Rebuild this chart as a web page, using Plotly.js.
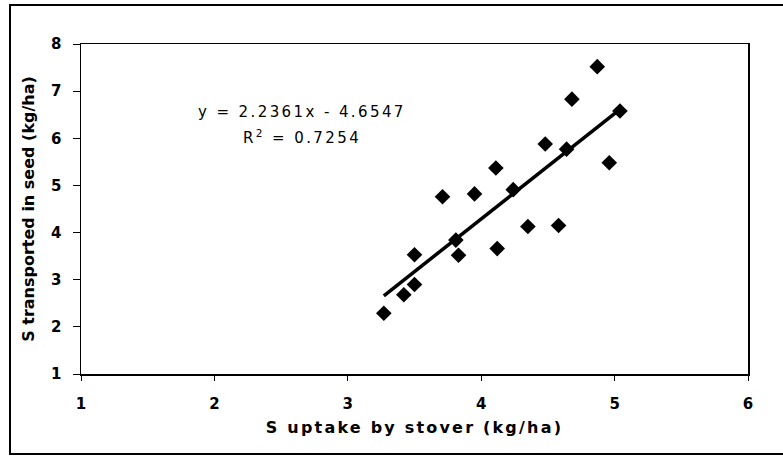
<!DOCTYPE html>
<html>
<head>
<meta charset="utf-8">
<script src="https://cdn.plot.ly/plotly-3.0.1.min.js"></script>
<style>
html,body{margin:0;padding:0;background:#fff;}
#chart{width:783px;height:456px;}
.xtitle{letter-spacing:2.2px;}
.annotation-text{letter-spacing:2.4px;}
</style>
</head>
<body>
<div id="chart"></div>
<script>
// Data
var stoverS = [3.27, 3.42, 3.50, 3.50, 3.81, 3.83, 3.71, 3.95, 4.11, 4.12, 4.24, 4.35, 4.48, 4.58, 4.64, 4.68, 4.96, 4.87, 5.04];
var seedS   = [2.29, 2.68, 2.90, 3.53, 3.84, 3.52, 4.76, 4.82, 5.37, 3.66, 4.91, 4.13, 5.88, 4.15, 5.77, 6.83, 5.48, 7.52, 6.58];
var slope = 2.2361;
var intercept = -4.6547;
var rSquared = 0.7254;
var xTicks = [1, 2, 3, 4, 5, 6];
var yTicks = [1, 2, 3, 4, 5, 6, 7, 8];

var xMin = Math.min.apply(null, stoverS);
var xMax = Math.max.apply(null, stoverS);
var lineX = [xMin, xMax];
var lineY = lineX.map(function (v) { return slope * v + intercept; });

var traces = [
  {x: lineX, y: lineY, mode: 'lines', type: 'scatter',
   line: {color: '#000', width: 3.5}, hoverinfo: 'skip'},
  {x: stoverS, y: seedS, mode: 'markers', type: 'scatter',
   marker: {symbol: 'diamond', size: 12, color: '#000'}}
];

var FONT = 'DejaVu Sans, Arial, sans-serif';
var tickFont = {family: FONT, size: 15, color: '#000', weight: 'bold'};
var plotL = 81, plotR = 748, plotT = 44, plotB = 374;
var pw = plotR - plotL, ph = plotB - plotT;

var layout = {
  width: 783, height: 456,
  margin: {l: plotL, r: 783 - plotR, t: plotT, b: 456 - plotB},
  paper_bgcolor: '#fff', plot_bgcolor: '#fff',
  showlegend: false,
  xaxis: {
    range: [1, 6], tickvals: xTicks, ticktext: xTicks.map(String),
    showgrid: false, zeroline: false,
    showline: true, linecolor: '#000', linewidth: 1.5, mirror: true,
    ticks: 'outside', ticklen: 5, tickcolor: '#000', ticklabelstandoff: 10,
    tickfont: tickFont,
    title: {text: 'S uptake by stover (kg/ha)', standoff: 10,
            font: {family: FONT, size: 16, color: '#000', weight: 'bold'}}
  },
  yaxis: {
    range: [1, 8], tickvals: yTicks, ticktext: yTicks.map(String),
    showgrid: false, zeroline: false,
    showline: true, linecolor: '#000', linewidth: 1.5, mirror: true,
    ticks: 'outside', ticklen: 7, tickcolor: '#000', ticklabelstandoff: 8,
    tickfont: tickFont,
    title: {text: 'S transported in seed (kg/ha)', standoff: 12,
            font: {family: FONT, size: 16, color: '#000', weight: 'bold'}}
  },
  annotations: [
    {x: 2.66, y: 6.56, xref: 'x', yref: 'y', showarrow: false,
     text: 'y = ' + slope.toFixed(4) + 'x - ' + Math.abs(intercept).toFixed(4),
     font: {family: FONT, size: 15, color: '#000'}},
    {x: 2.66, y: 6.03, xref: 'x', yref: 'y', showarrow: false,
     text: 'R<sup>2</sup> = ' + rSquared.toFixed(4),
     font: {family: FONT, size: 15, color: '#000'}}
  ],
  shapes: [{
    type: 'rect', xref: 'paper', yref: 'paper', layer: 'below',
    x0: (10 - plotL) / pw, x1: (795 - plotL) / pw,
    y0: (plotB - 454) / ph, y1: (plotB - 5) / ph,
    line: {color: '#000', width: 2}
  }]
};

Plotly.newPlot('chart', traces, layout, {displayModeBar: false, staticPlot: true});
</script>
</body>
</html>
